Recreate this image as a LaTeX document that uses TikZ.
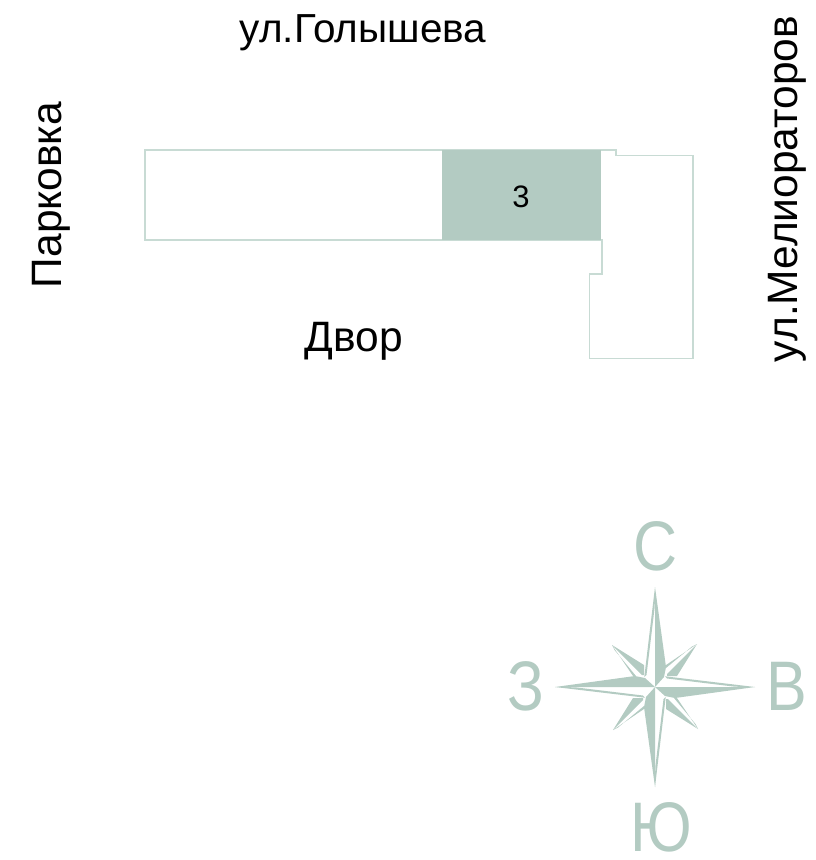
\documentclass[tikz,border=0pt]{standalone}
\usepackage{fontspec}
\setmainfont{Liberation Sans}
\definecolor{planline}{RGB}{200, 219, 212}
\definecolor{sagegreen}{RGB}{179, 203, 194}
\begin{document}
\begin{tikzpicture}[
    x=1pt, y=-1pt,
    planwall/.style={draw=planline, line width=1.3pt},
    sagefill/.style={fill=sagegreen, draw=none},
    streetlabel/.style={font=\fontsize{42.5}{42.5}\selectfont, text=black, inner sep=0pt},
    compasslabel/.style={font=\fontsize{61}{61}\selectfont, text=sagegreen, inner sep=0pt, transform shape, yscale=1.15}
]
\useasboundingbox (0,0) rectangle (815,860);

% Building outline
\draw[planwall] (145,150) -- (616,150) -- (616,155.5) -- (693,155.5) -- (693,358.5) -- (589.5,358.5) -- (589.5,274) -- (602,274) -- (602,240) -- (145,240) -- cycle;

% Flat
\node[sagefill, minimum width=159pt, minimum height=90pt, inner sep=0pt] (flat) at (521.5,195) {};
\node[font=\fontsize{31}{31}\selectfont] (flatnum) at (521,197) {3};

% Street labels
\node[streetlabel, font=\fontsize{40.5}{40.5}\selectfont] (north) at (363,33) {ул.Голышева};
\node[streetlabel, rotate=90] (east) at (787,189) {ул.Мелиораторов};
\node[streetlabel, rotate=90] (west) at (51,195) {Парковка};
\node[streetlabel] (yard) at (354,341) {Двор};

% Compass
\begin{scope}[shift={(655,687)}, y=1pt]
    \foreach \a in {0,90,180,270} {
        \begin{scope}[rotate=-\a]
            % long point
            \fill[sagefill] (0,100) -- (11,20) -- (9,10) -- (0,0) -- cycle;
            \fill[sagefill] (0,100) -- (-10.7,10) -- (-8.5,12) -- (-0.3,80) -- cycle;
            % short point
            \fill[sagefill] (42,43) -- (22,11) -- (12,11) -- (12,13) -- cycle;
            \fill[sagefill] (42,43) -- (10.3,21.5) -- (11,19) -- (37,40.5) -- cycle;
        \end{scope}
    }
\end{scope}
\node[compasslabel] (cn) at (656,546) {С};
\node[compasslabel] (ce) at (787,686) {В};
\node[compasslabel] (cs) at (661,827) {Ю};
\node[compasslabel] (cw) at (526,686) {З};
\end{tikzpicture}
\end{document}
